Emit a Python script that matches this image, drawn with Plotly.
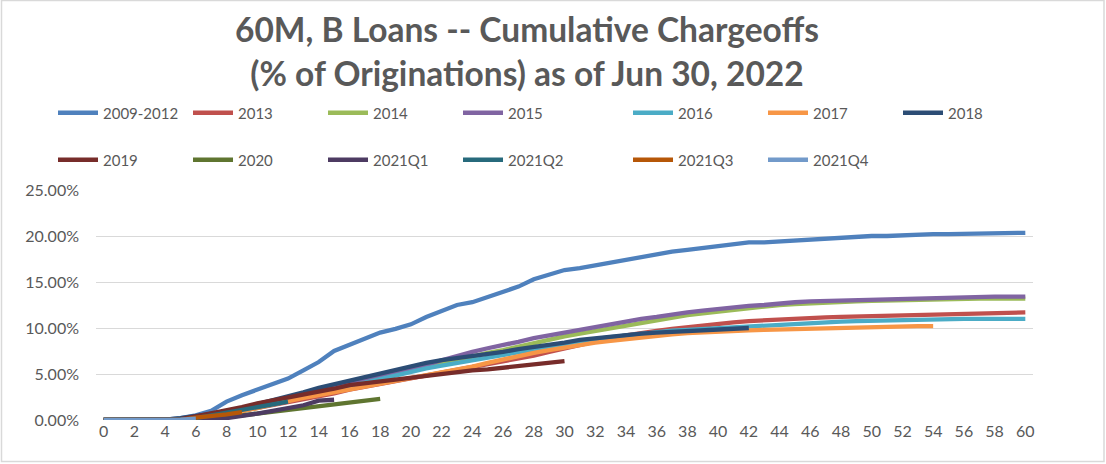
import plotly.graph_objects as go

months = list(range(0, 61))

names = ["2009-2012", "2013", "2014", "2015", "2016", "2017", "2018",
         "2019", "2020", "2021Q1", "2021Q2", "2021Q3", "2021Q4"]
colors = ["#4F81BD", "#C0504D", "#9BBB59", "#8064A2", "#4BACC6", "#F79646", "#2C4D75",
          "#772C2A", "#5F7530", "#4D3B62", "#276A7C", "#B65708", "#729ACA"]

v2009_2012 = [0, 0, 0, 0, 0.05, 0.2, 0.5, 1.0, 2.0, 2.7, 3.3, 4.0, 4.5, 5.4, 6.3, 7.5, 8.2, 8.9, 9.5, 9.9,
              10.4, 11.2, 11.9, 12.5, 12.8, 13.4, 14.0, 14.5, 15.3, 15.8, 16.3, 16.5, 16.8, 17.2, 17.5, 17.8,
              18.0, 18.3, 18.5, 18.7, 18.9, 19.1, 19.3, 19.3, 19.4, 19.5, 19.6, 19.8, 19.9, 19.95, 20.0, 20.0,
              20.1, 20.15, 20.2, 20.2, 20.25, 20.3, 20.3, 20.35, 20.35]
v2013 = [0, 0, 0, 0, 0, 0.05, 0.2, 0.4, 0.7, 1.0, 1.3, 1.6, 1.9, 2.3, 2.6, 2.9, 3.3, 3.6, 3.9, 4.3,
         4.6, 4.9, 5.2, 5.5, 5.8, 6.1, 6.4, 6.7, 7.0, 7.4, 7.8, 8.2, 8.6, 8.9, 9.2, 9.5, 9.7, 9.9, 10.1, 10.3,
         10.5, 10.6, 10.75, 10.85, 10.95, 11.05, 11.1, 11.15, 11.2, 11.25, 11.3, 11.35, 11.4, 11.45, 11.5,
         11.55, 11.6, 11.6, 11.65, 11.7, 11.7]
v2014 = [0, 0, 0, 0, 0, 0.1, 0.2, 0.4, 0.7, 1.0, 1.4, 1.8, 2.2, 2.6, 3.0, 3.4, 3.8, 4.2, 4.6, 5.0,
         5.4, 5.8, 6.2, 6.6, 7.0, 7.3, 7.6, 8.0, 8.4, 8.8, 9.1, 9.4, 9.7, 10.0, 10.3, 10.6, 10.9, 11.2, 11.4,
         11.6, 11.8, 12.0, 12.2, 12.35, 12.5, 12.6, 12.7, 12.8, 12.85, 12.9, 12.95, 13.0, 13.05, 13.1, 13.1,
         13.15, 13.15, 13.2, 13.2, 13.2, 13.2]
v2015 = [0, 0, 0, 0, 0, 0.1, 0.3, 0.5, 0.8, 1.1, 1.5, 1.9, 2.3, 2.7, 3.1, 3.5, 3.9, 4.3, 4.7, 5.1,
         5.5, 6.0, 6.5, 7.0, 7.4, 7.8, 8.1, 8.5, 8.9, 9.2, 9.6, 9.9, 10.2, 10.5, 10.8, 11.0, 11.2, 11.5, 11.7,
         11.9, 12.1, 12.2, 12.4, 12.5, 12.7, 12.8, 12.9, 12.95, 13.0, 13.05, 13.1, 13.15, 13.2, 13.25, 13.3,
         13.3, 13.35, 13.35, 13.4, 13.4, 13.4]
v2016 = [0, 0, 0, 0, 0, 0.1, 0.2, 0.4, 0.7, 1.0, 1.3, 1.7, 2.1, 2.5, 2.9, 3.3, 3.7, 4.1, 4.5, 4.9,
         5.2, 5.6, 5.9, 6.2, 6.5, 6.8, 7.1, 7.4, 7.7, 8.0, 8.3, 8.6, 8.8, 9.0, 9.2, 9.4, 9.5, 9.7, 9.8, 9.9,
         10.0, 10.1, 10.15, 10.2, 10.3, 10.4, 10.5, 10.6, 10.7, 10.75, 10.8, 10.85, 10.9, 10.9, 10.95, 10.95,
         11.0, 11.0, 11.0, 11.0, 11.0]
v2017 = [0, 0, 0, 0, 0, 0.05, 0.15, 0.3, 0.6, 0.9, 1.3, 1.7, 2.1, 2.4, 2.7, 3.0, 3.3, 3.6, 3.9, 4.2,
         4.5, 4.8, 5.1, 5.5, 5.8, 6.2, 6.6, 6.9, 7.3, 7.6, 7.9, 8.2, 8.4, 8.6, 8.8, 8.9, 9.1, 9.3, 9.45, 9.55,
         9.6, 9.7, 9.75, 9.8, 9.85, 9.9, 9.95, 10.0, 10.0, 10.05, 10.1, 10.1, 10.15, 10.2, 10.2]
v2018 = [0, 0, 0, 0, 0.05, 0.2, 0.4, 0.6, 0.9, 1.3, 1.7, 2.1, 2.6, 3.0, 3.5, 3.9, 4.3, 4.7, 5.1, 5.5,
         5.9, 6.2, 6.5, 6.7, 6.9, 7.2, 7.4, 7.7, 7.9, 8.2, 8.4, 8.7, 8.9, 9.1, 9.25, 9.4, 9.5, 9.6, 9.7, 9.8,
         9.9, 9.95, 10.0]
v2019 = [0, 0, 0, 0, 0, 0.1, 0.4, 0.7, 1.0, 1.4, 1.8, 2.1, 2.4, 2.8, 3.1, 3.4, 3.8, 4.0, 4.2, 4.4,
         4.6, 4.9, 5.1, 5.3, 5.4, 5.5, 5.7, 5.8, 6.0, 6.2, 6.4]
v2020 = [0, 0, 0, 0, 0, 0.05, 0.1, 0.2, 0.3, 0.5, 0.7, 0.9, 1.1, 1.3, 1.6, 1.8, 2.0, 2.1, 2.3]
v2021q1 = [0, 0, 0, 0, 0, 0, 0.05, 0.1, 0.2, 0.4, 0.7, 1.0, 1.3, 1.6, 2.1, 2.2]
v2021q2 = [0, 0, 0, 0, 0, 0, 0.2, 0.5, 0.8, 1.1, 1.3, 1.6, 2.0]
v2021q3 = [0, 0, 0, 0, 0, 0, 0.25, 0.4, 0.6, 0.85]
v2021q4 = [0, 0, 0, 0, 0, 0.05, 0.15]

series = [v2009_2012, v2013, v2014, v2015, v2016, v2017, v2018,
          v2019, v2020, v2021q1, v2021q2, v2021q3, v2021q4]

y_ticks = [0, 5, 10, 15, 20, 25]
y_tick_labels = ["0.00%", "5.00%", "10.00%", "15.00%", "20.00%", "25.00%"]

legend_ids = ["legend", "legend", "legend", "legend", "legend2", "legend2", "legend2",
              "legend3", "legend3", "legend3", "legend3", "legend4", "legend4"]

fig = go.Figure()
for name, col, vals, lg in zip(names, colors, series, legend_ids):
    fig.add_trace(go.Scatter(
        x=months[:len(vals)], y=[v / 100 for v in vals], mode="lines", name=name,
        line=dict(color=col, width=4.3), legend=lg, hoverinfo="skip"))

W, H = 1106, 464
ml, mr, mt, mb = 96, 73, 190, 44
pw = W - ml - mr
ph = H - mt - mb

def px_x(p):
    return (p - ml) / pw

def px_y(p):
    return (H - mb - p) / ph

gray = "#595959"
leg_common = dict(orientation="h", font=dict(family="Lato", size=15, color=gray),
                  bgcolor="rgba(0,0,0,0)", yanchor="middle", xanchor="left",
                  entrywidth=80, entrywidthmode="pixels", traceorder="normal", itemwidth=40)

fig.update_layout(
    width=W, height=H,
    margin=dict(l=ml, r=mr, t=mt, b=mb, autoexpand=False),
    paper_bgcolor="white", plot_bgcolor="white",
    title=dict(text="<b>60M, B Loans -- Cumulative Chargeoffs<br>(% of Originations) as of Jun 30, 2022</b>",
               font=dict(family="Lato", size=33.5, color=gray),
               x=527 / W, xanchor="center", xref="container",
               y=1 - 42 / H, yanchor="top", yref="container"),
    legend=dict(x=px_x(53), y=px_y(113), **leg_common),
    legend2=dict(x=px_x(628), y=px_y(113), **leg_common),
    legend3=dict(x=px_x(53), y=px_y(160), **leg_common),
    legend4=dict(x=px_x(628), y=px_y(160), **leg_common),
    xaxis=dict(range=[-0.5, 60.5], tickmode="linear", tick0=0, dtick=2,
               showgrid=False, zeroline=False, showline=False, ticks="",
               tickfont=dict(family="Lato", size=16, color=gray)),
    yaxis=dict(range=[0, 0.25], tickvals=[t / 100 for t in y_ticks], ticktext=y_tick_labels,
               showgrid=True, gridcolor="#D9D9D9", gridwidth=1.3, zeroline=False,
               showline=False, ticks="", ticklabelstandoff=16,
               tickfont=dict(family="Lato", size=16, color=gray)),
    showlegend=True,
)

fig.add_shape(type="rect", xref="paper", yref="paper",
              x0=px_x(1.5), x1=px_x(W - 2), y0=px_y(H - 2.5), y1=px_y(0.5),
              line=dict(color="#D9D9D9", width=1.5), fillcolor="rgba(0,0,0,0)", layer="below")

fig.write_html("out.html", config={"displayModeBar": False},
               post_script="document.body.style.margin='0';document.body.style.padding='0';")
